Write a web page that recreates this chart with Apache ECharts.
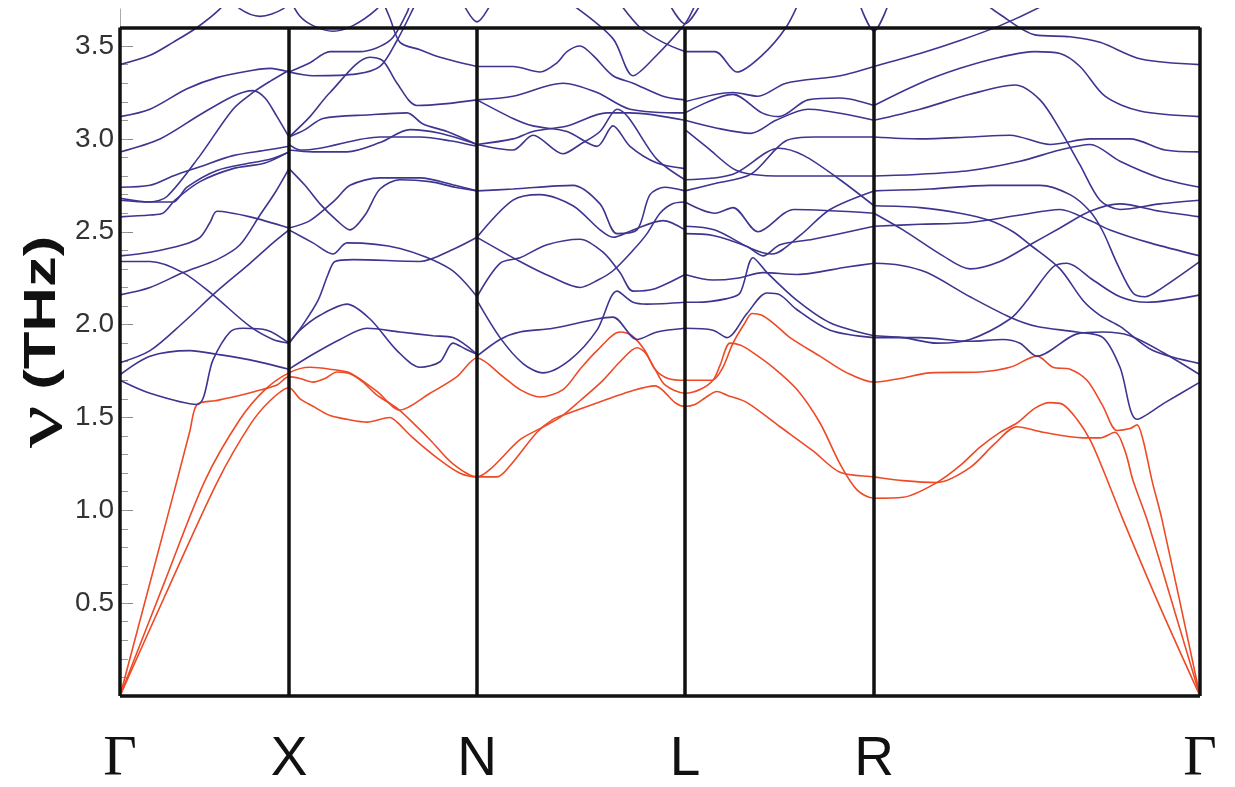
<!DOCTYPE html>
<html><head><meta charset="utf-8">
<script src="https://cdn.jsdelivr.net/npm/echarts@6/dist/echarts.min.js"></script>
<style>html,body{margin:0;padding:0;background:#fff}#c{width:1235px;height:787px}</style>
</head><body><div id="c"></div>
<script>
// k-path positions (path length, arbitrary units) and labels
const kPoints = [0, 169, 357, 565, 754, 1080];
const kLabels = ['Γ', 'X', 'N', 'L', 'R', 'Γ'];
const yTicks = [0.5, 1.0, 1.5, 2.0, 2.5, 3.0, 3.5];
const frameTop = 3.60;
const viewTop = 3.70;

// acoustic branches (k, THz)
const acoustic1 = [[0,0],[45,0.62],[85,1.16],[120,1.49],[145,1.65],[169,1.74],[190,1.77],[210,1.76],[230,1.74],[257,1.64],[280,1.54],[310,1.63],[337,1.72],[357,1.82],[383,1.72],[400,1.65],[420,1.61],[443,1.65],[460,1.76],[477,1.86],[500,1.96],[512,1.94],[525,1.86],[535,1.76],[548,1.71],[565,1.70],[580,1.70],[592,1.70],[602,1.76],[613,1.90],[625,2.01],[632,2.06],[642,2.05],[655,2.00],[670,1.93],[700,1.83],[727,1.74],[754,1.69],[780,1.71],[810,1.74],[860,1.745],[890,1.77],[917,1.83],[933,1.77],[950,1.76],[967,1.70],[983,1.56],[997,1.43],[1010,1.44],[1017,1.46],[1023,1.38],[1032,1.16],[1042,0.95],[1080,0]];
const acoustic2 = [[0,0],[30,0.61],[57,1.16],[70,1.43],[77,1.57],[95,1.59],[113,1.61],[135,1.64],[157,1.675],[169,1.72],[180,1.71],[193,1.69],[205,1.71],[217,1.745],[230,1.735],[243,1.69],[257,1.62],[277,1.55],[295,1.46],[310,1.38],[333,1.25],[357,1.18],[370,1.22],[400,1.38],[420,1.44],[440,1.50],[460,1.59],[483,1.70],[500,1.80],[517,1.875],[525,1.85],[535,1.76],[545,1.675],[565,1.63],[580,1.65],[593,1.70],[600,1.78],[610,1.90],[620,1.89],[630,1.86],[653,1.77],[677,1.65],[700,1.47],[720,1.25],[737,1.11],[754,1.065],[783,1.07],[817,1.15],[840,1.24],[860,1.34],[880,1.42],[897,1.47],[915,1.55],[930,1.58],[943,1.57],[957,1.49],[970,1.38],[983,1.22],[1003,0.95],[1040,0.48],[1080,0]];
const acoustic3 = [[0,0],[50,0.60],[98,1.16],[130,1.46],[150,1.59],[169,1.66],[180,1.60],[193,1.56],[210,1.51],[227,1.49],[247,1.475],[270,1.50],[277,1.475],[293,1.39],[320,1.27],[340,1.20],[357,1.18],[377,1.18],[390,1.24],[417,1.42],[433,1.49],[447,1.52],[483,1.59],[510,1.64],[535,1.67],[542,1.65],[555,1.58],[565,1.56],[575,1.57],[585,1.605],[597,1.64],[607,1.62],[627,1.58],[660,1.45],[693,1.32],[720,1.205],[754,1.18],[783,1.16],[817,1.15],[850,1.23],[875,1.36],[897,1.45],[923,1.42],[963,1.39],[980,1.39],[995,1.42],[1005,1.32],[1013,1.16],[1027,0.95],[1055,0.45],[1080,0]];

// optical branches, per path segment
const opticalGX = [
  [[0,3.40],[30,3.45],[53,3.52],[77,3.60],[100,3.70],[106,3.75]],
  [[0,3.12],[30,3.16],[67,3.27],[97,3.33],[133,3.37],[150,3.38],[169,3.36]],
  [[0,2.93],[40,3.00],[80,3.13],[113,3.23],[133,3.26],[145,3.22],[157,3.12],[169,3.01]],
  [[0,2.67],[30,2.66],[47,2.69],[80,2.91],[113,3.16],[133,3.25],[150,3.31],[169,3.37]],
  [[0,2.74],[30,2.75],[53,2.80],[80,2.85],[113,2.91],[147,2.94],[169,2.96]],
  [[0,2.68],[30,2.66],[53,2.66],[67,2.74],[97,2.83],[130,2.87],[150,2.89],[169,2.93]],
  [[0,2.58],[30,2.59],[43,2.60],[55,2.67],[80,2.77],[113,2.84],[145,2.87],[169,2.93]],
  [[0,2.37],[30,2.39],[63,2.43],[80,2.47],[90,2.55],[97,2.61],[130,2.58],[169,2.52]],
  [[0,2.34],[30,2.34],[63,2.28],[93,2.16],[130,1.99],[153,1.92],[169,1.90]],
  [[0,2.16],[30,2.20],[63,2.28],[97,2.35],[120,2.43],[140,2.59],[155,2.71],[169,2.84]],
  [[0,1.795],[30,1.86],[63,2.01],[97,2.18],[130,2.33],[153,2.44],[169,2.51]],
  [[0,1.73],[30,1.83],[70,1.86],[97,1.84],[130,1.81],[169,1.76]],
  [[0,1.70],[30,1.63],[77,1.57],[93,1.81],[110,1.96],[123,1.98],[147,1.97],[169,1.90]],
  [[115,3.75],[120,3.70],[140,3.66],[163,3.70],[168,3.75]]
];
const opticalXN = [
  [[169,1.76],[193,1.84],[220,1.92],[247,1.98],[280,1.96],[313,1.94],[333,1.93],[357,1.84]],
  [[169,1.90],[180,1.97],[200,2.05],[227,2.11],[250,2.03],[277,1.86],[300,1.77],[320,1.80],[333,1.90],[345,1.87],[357,1.84]],
  [[169,1.90],[183,2.00],[198,2.13],[208,2.27],[215,2.34],[233,2.35],[300,2.34],[335,2.41],[357,2.47]],
  [[169,2.51],[193,2.44],[213,2.38],[227,2.44],[280,2.41],[330,2.30],[357,2.15]],
  [[169,2.52],[190,2.56],[215,2.67],[230,2.75],[260,2.79],[300,2.79],[335,2.75],[357,2.72]],
  [[169,2.84],[185,2.75],[200,2.65],[217,2.56],[230,2.51],[245,2.59],[260,2.73],[280,2.78],[310,2.77],[335,2.74],[357,2.72]],
  [[169,2.97],[180,2.94],[200,2.95],[260,3.01],[300,3.01],[330,2.99],[357,2.96]],
  [[169,3.01],[185,3.05],[203,3.11],[250,3.13],[287,3.14],[303,3.08],[327,3.04],[357,2.97]],
  [[169,2.94],[193,2.93],[227,2.93],[260,2.98],[290,3.05],[320,3.03],[357,2.97]],
  [[169,3.36],[193,3.34],[237,3.35],[260,3.39],[277,3.53],[293,3.70],[297,3.75]],
  [[169,3.36],[190,3.41],[210,3.47],[240,3.47],[270,3.53],[287,3.68],[290,3.73]],
  [[169,3.01],[190,3.12],[210,3.25],[250,3.44],[263,3.42],[277,3.30],[297,3.18],[327,3.19],[357,3.21]],
  [[262,3.75],[270,3.65],[280,3.52],[300,3.48],[320,3.44],[357,3.39]],
  [[170,3.75],[180,3.66],[193,3.61],[213,3.58],[233,3.61],[257,3.70],[262,3.75]],
  [[340,3.76],[357,3.63],[374,3.76]]
];
const opticalNL = [
  [[357,2.13],[380,1.93],[403,1.79],[423,1.74],[450,1.81],[477,1.97],[497,2.18],[513,2.12],[527,2.11],[565,2.12]],
  [[357,1.83],[380,1.92],[400,1.96],[433,1.98],[477,2.03],[493,2.04],[517,1.92],[537,1.96],[565,1.98]],
  [[357,2.15],[380,2.33],[400,2.36],[427,2.43],[460,2.46],[483,2.39],[500,2.28],[513,2.18],[533,2.19],[565,2.27]],
  [[357,2.47],[400,2.34],[430,2.26],[460,2.20],[478,2.24],[493,2.29],[513,2.40],[527,2.49],[540,2.60],[552,2.65],[565,2.66]],
  [[357,3.39],[393,3.39],[420,3.36],[437,3.41],[447,3.47],[460,3.50],[473,3.45],[493,3.34],[513,3.30],[543,3.23],[565,3.21]],
  [[453,3.72],[493,3.54],[513,3.34],[533,3.43],[565,3.62],[575,3.72]],
  [[357,3.21],[393,3.23],[443,3.30],[477,3.25],[510,3.16],[565,3.14]],
  [[357,3.21],[393,3.11],[413,3.07],[447,3.04],[477,2.96],[493,3.07],[510,2.96],[537,2.87],[565,2.84]],
  [[357,2.97],[393,3.00],[413,3.04],[447,3.07],[487,3.14],[510,3.14],[565,3.10]],
  [[357,2.97],[393,2.94],[413,3.02],[443,2.92],[460,2.97],[480,3.04],[497,3.16],[537,2.89],[565,2.78]],
  [[357,2.72],[393,2.73],[453,2.75],[480,2.65],[497,2.49],[517,2.51],[530,2.70],[545,2.74],[565,2.72]],
  [[357,2.47],[393,2.67],[420,2.70],[453,2.64],[480,2.51],[493,2.47],[513,2.51],[543,2.56],[565,2.51]],
  [[497,3.75],[520,3.60],[543,3.52],[565,3.47]],
  [[550,3.72],[565,3.62],[580,3.72]]
];
const opticalLR = [
  [[565,3.47],[595,3.47],[617,3.36],[642,3.45],[666,3.60],[680,3.75]],
  [[565,3.20],[613,3.25],[638,3.23],[666,3.30],[720,3.34],[754,3.39]],
  [[565,3.14],[613,3.24],[642,3.14],[659,3.12],[688,3.21],[720,3.22],[754,3.18]],
  [[565,3.10],[595,3.06],[631,3.03],[656,3.10],[688,3.16],[754,3.10]],
  [[565,3.05],[588,2.95],[613,2.84],[631,2.81],[666,2.80],[754,2.80]],
  [[565,2.78],[613,2.81],[659,2.95],[684,2.91],[720,2.78],[754,2.64]],
  [[565,2.72],[595,2.76],[631,2.81],[666,2.99],[695,3.01],[754,3.01]],
  [[565,2.66],[595,2.60],[613,2.63],[638,2.50],[674,2.62],[754,2.60]],
  [[565,2.53],[595,2.51],[631,2.41],[652,2.38],[680,2.48],[710,2.62],[754,2.72]],
  [[565,2.49],[593,2.48],[627,2.42],[643,2.37],[660,2.43],[693,2.46],[754,2.53]],
  [[565,2.27],[593,2.24],[617,2.25],[643,2.28],[677,2.27],[727,2.31],[754,2.33]],
  [[565,2.12],[577,2.12],[607,2.14],[620,2.17],[633,2.36],[647,2.28],[677,2.13],[710,2.01],[754,1.94]],
  [[565,1.98],[593,1.97],[607,1.93],[627,2.06],[647,2.17],[660,2.16],[677,2.08],[710,1.97],[754,1.93]],
  [[740,3.72],[754,3.58],[768,3.72]]
];
const opticalRG = [
  [[754,3.39],[800,3.46],[840,3.53],[880,3.61],[920,3.71],[930,3.75]],
  [[860,3.75],[880,3.67],[915,3.56],[950,3.55],[980,3.52],[1021,3.43],[1080,3.40]],
  [[754,3.18],[800,3.30],[840,3.38],[880,3.44],[915,3.47],[940,3.46],[960,3.39],[985,3.23],[1020,3.15],[1080,3.12]],
  [[754,3.10],[800,3.16],[850,3.24],[895,3.29],[920,3.21],[940,3.05],[960,2.86],[980,2.67],[1000,2.62],[1040,2.65],[1080,2.67]],
  [[754,3.01],[800,3.00],[850,3.01],[890,3.02],[930,2.97],[970,3.00],[1010,3.00],[1045,2.94],[1080,2.93]],
  [[754,2.80],[800,2.81],[850,2.83],[900,2.88],[940,2.94],[970,2.97],[1000,2.88],[1040,2.79],[1080,2.74]],
  [[754,2.72],[810,2.73],[870,2.75],[920,2.75],[950,2.70],[970,2.61],[983,2.50],[997,2.33],[1013,2.17],[1025,2.15],[1040,2.19],[1080,2.34]],
  [[754,2.64],[800,2.63],[840,2.60],[870,2.56],[893,2.50],[910,2.43],[940,2.30],[963,2.13],[980,2.05],[1000,1.99],[1033,1.86],[1080,1.79]],
  [[754,2.60],[783,2.51],[823,2.37],[850,2.30],[880,2.34],[910,2.43],[940,2.52],[970,2.61],[1000,2.65],[1040,2.61],[1080,2.58]],
  [[754,2.53],[800,2.54],[850,2.55],[900,2.59],[940,2.62],[970,2.56],[990,2.51],[1030,2.44],[1080,2.37]],
  [[754,2.33],[780,2.32],[807,2.28],[850,2.15],[890,2.04],[917,1.99],[957,1.96],[983,1.93],[1000,1.77],[1017,1.49],[1045,1.58],[1080,1.69]],
  [[754,1.93],[800,1.93],[850,1.91],[883,1.92],[900,1.90],[917,1.83],[957,1.95],[983,1.96],[1010,1.94],[1043,1.85],[1080,1.73]],
  [[754,1.94],[783,1.93],[817,1.90],[850,1.92],[890,2.03],[907,2.13],[933,2.31],[947,2.33],[973,2.24],[1000,2.15],[1027,2.12],[1080,2.16]]
];

const RED = '#ee4a26';
const BLUE = '#3d3590';
const Y0 = 696, PX_PER_THZ = 185.7;

const chart = echarts.init(document.getElementById('c'), null, {renderer: 'canvas'});

const series = [];
[acoustic1, acoustic2, acoustic3].forEach(d => series.push({
  type: 'line', xAxisIndex: 1, yAxisIndex: 2, data: d, smooth: 0.3,
  symbol: 'none', lineStyle: {color: RED, width: 1.6}, z: 3, silent: true
}));
[opticalGX, opticalXN, opticalNL, opticalLR, opticalRG].forEach(seg => seg.forEach(d => series.push({
  type: 'line', xAxisIndex: 1, yAxisIndex: 2, data: d, smooth: 0.3,
  symbol: 'none', lineStyle: {color: BLUE, width: 1.6}, z: 3, silent: true
})));
// frame: borders and high-symmetry verticals
series.push({
  type: 'line', xAxisIndex: 0, yAxisIndex: 0, data: [], silent: true, z: 6,
  markLine: {
    silent: true, symbol: 'none', label: {show: false},
    lineStyle: {color: '#111', width: 3.5, type: 'solid'},
    data: kPoints.map(k => ({xAxis: k})).concat([{yAxis: 0}, {yAxis: frameTop}])
  }
});

const option = {
  animation: false,
  backgroundColor: '#ffffff',
  grid: [
    {left: 120, right: 35, top: Y0 - frameTop * PX_PER_THZ, bottom: 787 - Y0, outerBoundsMode: 'none', containLabel: false},
    {left: 120, right: 35, top: Y0 - viewTop * PX_PER_THZ, bottom: 787 - Y0, outerBoundsMode: 'none', containLabel: false}
  ],
  xAxis: [
    {type: 'value', gridIndex: 0, min: 0, max: 1080, splitLine: {show: false},
     axisLine: {show: false}, axisTick: {show: false},
     axisLabel: {
       customValues: kPoints, margin: 64, verticalAlign: 'middle',
       formatter: v => { const i = kPoints.indexOf(v); if (i < 0) return ''; const t = kLabels[i]; return t === 'Γ' ? '{g|Γ}' : '{s|' + t + '}'; },
       rich: {
         g: {fontFamily: 'Liberation Serif, serif', fontSize: 58, color: '#111'},
         s: {fontFamily: 'Liberation Sans, Arial, sans-serif', fontSize: 55, color: '#111'}
       }
     }},
    {type: 'value', gridIndex: 1, min: 0, max: 1080, show: false}
  ],
  yAxis: [
    {type: 'value', gridIndex: 0, min: 0, max: frameTop, interval: 0.5, position: 'left',
     splitLine: {show: false}, axisLine: {show: false},
     axisTick: {show: true, inside: true, length: 13, lineStyle: {color: '#888', width: 1}},
     axisLabel: {margin: 6, fontSize: 28, color: '#333', fontFamily: 'Liberation Sans, Arial, sans-serif',
       formatter: v => yTicks.some(t => Math.abs(t - v) < 1e-6) ? v.toFixed(1) : ''}},
    {type: 'value', gridIndex: 0, min: 0, max: frameTop, interval: 0.1, position: 'left',
     splitLine: {show: false}, axisLine: {show: false}, axisLabel: {show: false},
     axisTick: {show: true, inside: true, length: 8, lineStyle: {color: '#999', width: 1}}},
    {type: 'value', gridIndex: 1, min: 0, max: viewTop, position: 'left',
     splitLine: {show: false}, axisTick: {show: false}, axisLabel: {show: false},
     axisLine: {show: true, lineStyle: {color: '#aaa', width: 1}}}
  ],
  graphic: [{
    type: 'text', x: 43, y: 342, rotation: Math.PI / 2, scaleX: 1.4, z: 10,
    style: {
      text: '{a|ν}{sp| }{b|(THz)}', align: 'center', verticalAlign: 'middle',
      rich: {
        a: {fontFamily: 'Liberation Serif, serif', fontSize: 68, fill: '#111'},
        sp: {fontFamily: 'Liberation Sans, Arial, sans-serif', fontSize: 40, fill: '#111'},
        b: {fontFamily: 'Liberation Sans, Arial, sans-serif', fontSize: 44, fontWeight: 'bold', fill: '#111'}
      }
    }
  }],
  series: series
};
chart.setOption(option);
</script>
</body></html>
